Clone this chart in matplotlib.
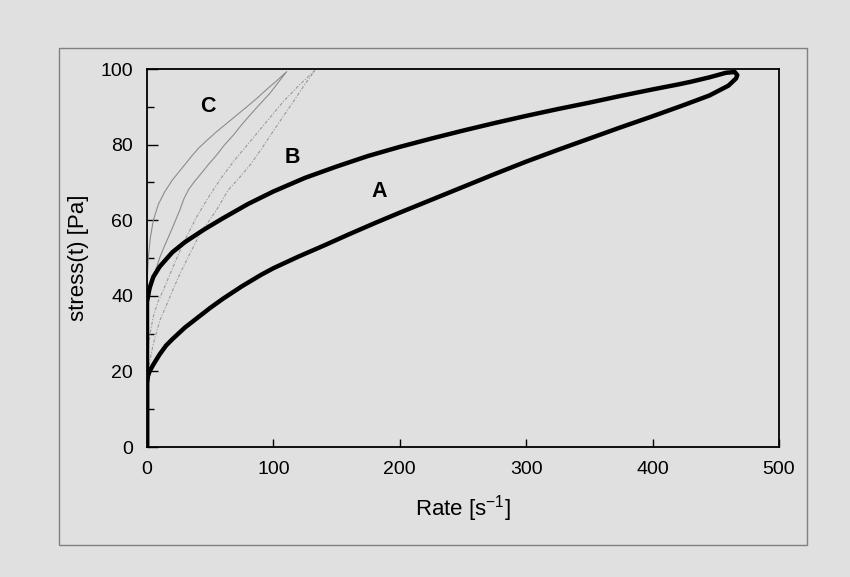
import matplotlib
matplotlib.use("Agg")
import matplotlib.pyplot as plt
from matplotlib.patches import Rectangle

plt.rcParams['font.family'] = ['Liberation Sans', 'DejaVu Sans']

# Curve A (thick hysteresis loop): up branch then down branch
a_up_rate = [0, 0, 0.5, 2, 5, 10, 15, 20, 30, 40, 50, 60, 75, 90, 100, 120, 140, 160, 180,
             200, 225, 250, 275, 300, 325, 350, 375, 400, 425, 445, 460, 466, 467]
a_up_stress = [0, 17, 18.5, 20, 21.8, 24.5, 26.8, 28.5, 31.6, 34.2, 36.8, 39.2, 42.5, 45.5, 47.3,
               50.4, 53.3, 56.3, 59.2, 62, 65.4, 68.8, 72.2, 75.5, 78.6, 81.6, 84.6, 87.5, 90.5,
               93, 95.6, 97.5, 98.4]
a_dn_rate = [467, 465, 458, 445, 430, 420, 400, 375, 350, 325, 300, 275, 250, 225, 200, 175,
             150, 125, 100, 80, 60, 45, 30, 20, 10, 5, 2, 0, 0]
a_dn_stress = [98.4, 99.2, 99, 97.8, 96.6, 95.9, 94.6, 92.9, 91.1, 89.4, 87.6, 85.7, 83.7, 81.6,
               79.4, 77, 74.2, 71.2, 67.6, 64.3, 60.5, 57.5, 54.2, 51.5, 47.7, 45, 42, 38.5, 0]

# Curve B (thin dash-dot loop)
b_out_rate = [0, 0.5, 1, 2.4, 5, 8.5, 12.9, 19.5, 28.7, 39.3, 49.8, 59, 68.3, 81.5, 94.7,
              107.9, 120, 133]
b_out_stress = [20, 23, 25.7, 30, 34.5, 38.3, 41.5, 46.8, 53.9, 60.9, 66.7, 71.3, 75.5, 80.8,
                86.1, 91.4, 95.6, 99.7]
b_in_rate = [133, 124, 115, 106, 98, 90, 82, 73, 64.3, 55, 48, 42, 34, 27, 21, 16, 10.3, 5,
             2.4, 0.8, 0]
b_in_stress = [99.7, 95.5, 91, 86.6, 82.6, 78.6, 74.8, 71.2, 68, 62.7, 59.3, 56.5, 51.2, 46.5,
               42, 38, 33.6, 27.4, 23, 20, 18]

# Curve C (thin solid loop)
c_out_rate = [0, 0.3, 1, 2.5, 5, 9, 14, 20, 28.7, 35, 40.6, 48, 55, 63, 71, 79, 86.8, 95,
              103, 110.5]
c_out_stress = [40, 45, 50, 55, 60, 64.2, 67.5, 70.6, 74.2, 76.8, 79, 81.3, 83.4, 85.6, 87.8,
                90, 92.2, 94.7, 97, 99.3]
c_in_rate = [110.5, 104, 97.3, 89, 81.5, 75, 68.3, 61, 55, 48, 42, 37, 32.7, 29, 26, 22, 18.2,
             14, 10.3, 7.5, 5, 2.4, 1, 0]
c_in_stress = [99.3, 96.5, 93.6, 90.6, 87.8, 85.3, 82.5, 79.8, 77.2, 74.5, 72, 70, 68, 65.5,
               62.7, 59.5, 56.5, 53.3, 50.3, 47.5, 45, 40.6, 38, 36]

labels = ['A', 'B', 'C']
label_rate = [183.5, 115, 48]
label_stress = [67.7, 76.5, 90]

x_ticks = [0, 100, 200, 300, 400, 500]
y_ticks = [0, 20, 40, 60, 80, 100]

bg = '#e0e0e0'
fig = plt.figure(figsize=(8.5, 5.77), dpi=100, facecolor=bg)
fig.patches.append(Rectangle((59/850, 1-545/577), (807-59)/850, (545-48)/577,
                             transform=fig.transFigure, fill=False,
                             edgecolor='#808080', linewidth=1.0, zorder=0))
ax = fig.add_axes([147/850, 1-447/577, (779-147)/850, (447-69)/577])
ax.set_facecolor(bg)

ax.plot(c_out_rate + c_in_rate, c_out_stress + c_in_stress, color='#8c8c8c', lw=0.8, zorder=2)
ax.plot(b_out_rate + b_in_rate, b_out_stress + b_in_stress, color='#9a9a9a', lw=0.8,
        linestyle=(0, (3, 1.5, 1, 1.5)), zorder=2)
ax.plot(a_up_rate + a_dn_rate, a_up_stress + a_dn_stress, color='black', lw=3.2,
        solid_joinstyle='round', solid_capstyle='round', zorder=3)

for t, xr, ys in zip(labels, label_rate, label_stress):
    ax.text(xr, ys, t, fontsize=15.5, fontweight='bold', ha='center', va='center')

ax.set_xlim(0, 500)
ax.set_ylim(0, 100)
ax.set_xticks(x_ticks)
ax.set_yticks(y_ticks)
ax.set_yticks([10, 30, 50, 70, 90], minor=True)
ax.tick_params(axis='both', which='both', direction='in', labelsize=14, pad=10, color='black')
ax.tick_params(axis='x', which='major', length=6, width=1)
ax.tick_params(axis='y', which='major', length=8, width=1)
ax.tick_params(axis='y', which='minor', length=5, width=1)
for s in ax.spines.values():
    s.set_linewidth(1.3)
    s.set_color('black')

ax.set_xlabel('Rate [s$^{\\mathregular{-1}}$]', fontsize=16, labelpad=11)
ax.set_ylabel('stress(t) [Pa]', fontsize=16, labelpad=8)

fig.savefig('out.png', dpi=100, facecolor=bg)
